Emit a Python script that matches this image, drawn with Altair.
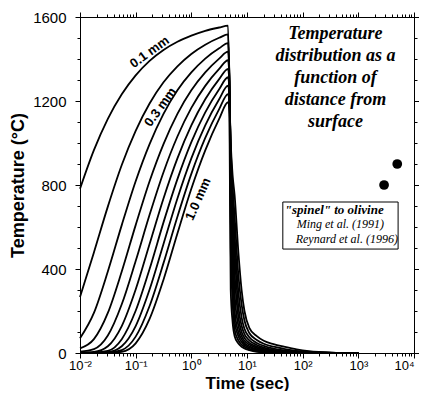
import altair as alt
import pandas as pd

# ---------------- data ----------------
depth_labels = ["0.1", "0.2", "0.3", "0.4", "0.5", "0.6", "0.7", "0.8", "0.9", "1.0"]

# heating phase (time in s)
heat_time = [0.01, 0.01778, 0.03162, 0.05623, 0.1, 0.1778, 0.3162, 0.5623, 1.0, 1.778, 3.162, 4.571]
heat_01 = [782, 966, 1115, 1232, 1322, 1391, 1443, 1482, 1511, 1534, 1550, 1559]
heat_02 = [266, 479, 697, 895, 1058, 1188, 1289, 1365, 1424, 1468, 1501, 1517]
heat_03 = [70, 191, 388, 609, 818, 995, 1139, 1251, 1336, 1402, 1451, 1476]
heat_04 = [22, 66, 191, 388, 609, 818, 995, 1139, 1251, 1336, 1402, 1435]
heat_05 = [6, 18, 83, 232, 438, 658, 861, 1031, 1167, 1272, 1353, 1394]
heat_06 = [2, 5, 32, 128, 302, 519, 736, 927, 1084, 1208, 1304, 1353]
heat_07 = [1, 2, 10, 66, 201, 400, 622, 828, 1004, 1146, 1256, 1313]
heat_08 = [0, 1, 4, 32, 128, 302, 519, 736, 927, 1084, 1208, 1273]
heat_09 = [0, 0, 2, 14, 78, 224, 428, 649, 853, 1024, 1161, 1233]
heat_10 = [0, 0, 1, 6, 46, 162, 349, 569, 782, 965, 1115, 1194]

# cooling phase (time in s)
cool_time = [4.85, 5.1, 5.5, 6.0, 7.0, 8.0, 9.0, 11, 15, 20, 30, 46, 78, 130, 200, 400, 1000]
cool_01 = [1100, 300, 150, 80, 45, 30, 22, 14, 6, 3, 1, 0, 0, 0, 0, 0, 0]
cool_02 = [1250, 500, 250, 110, 60, 40, 30, 20, 10, 5, 2, 1, 0, 0, 0, 0, 0]
cool_03 = [1300, 650, 350, 150, 80, 52, 38, 26, 14, 8, 4, 2, 1, 0, 0, 0, 0]
cool_04 = [1300, 750, 450, 200, 100, 65, 47, 32, 18, 11, 6, 3, 1, 0, 0, 0, 0]
cool_05 = [1290, 820, 550, 280, 130, 80, 58, 40, 24, 15, 8, 4, 2, 1, 0, 0, 0]
cool_06 = [1270, 880, 620, 380, 170, 100, 72, 48, 30, 20, 11, 6, 3, 1, 1, 0, 0]
cool_07 = [1250, 920, 680, 480, 220, 130, 90, 60, 38, 26, 15, 9, 4, 2, 1, 0, 0]
cool_08 = [1220, 950, 750, 560, 290, 170, 115, 75, 48, 34, 21, 13, 6, 3, 2, 0, 0]
cool_09 = [1190, 980, 800, 650, 370, 230, 155, 95, 62, 44, 30, 20, 10, 5, 3, 1, 0]
cool_10 = [1160, 1000, 850, 750, 480, 300, 200, 120, 80, 58, 42, 30, 17, 9, 5, 1, 0]

# experimental points
dot_time = [5000, 2900]
dot_temp = [900, 800]

# curve labels
curve_label_text = ["0.1 mm", "0.3 mm", "1.0 mm"]
curve_label_time = [0.178, 0.279, 1.33]
curve_label_temp = [1433, 1171, 733]
curve_label_angle = [324, 306, 294]

# annotation title (first line centre)
note_lines = ["Temperature", "distribution as a", "function of", "distance from", "surface"]
note_time = 388
note_temp = 1519

# legend box
box_time = [44, 5180]
box_temp = [495, 719]
legend_text = ["\"spinel\" to olivine", "Ming et al. (1991)", "Reynard et al. (1996)"]
legend_time = [47.7, 78, 75]
legend_temp = [681, 614, 543]
legend_weight = ["bold", "normal", "normal"]
legend_size = [13, 12, 12]

# axis ticks
x_ticks = []
for e in range(-2, 4):
    for k in range(1, 10):
        x_ticks.append(round(k * 10.0 ** e, 6))
x_ticks.append(10000)
y_ticks = list(range(0, 1700, 100))

# ---------------- build table ----------------
heats = [heat_01, heat_02, heat_03, heat_04, heat_05, heat_06, heat_07, heat_08, heat_09, heat_10]
cools = [cool_01, cool_02, cool_03, cool_04, cool_05, cool_06, cool_07, cool_08, cool_09, cool_10]
rows = []
for d, h, c in zip(depth_labels, heats, cools):
    i = 0
    for t, v in zip(heat_time, h):
        rows.append({"depth": d, "t": t, "T": v, "i": i}); i += 1
    for t, v in zip(cool_time, c):
        rows.append({"depth": d, "t": t, "T": v, "i": i}); i += 1
df = pd.DataFrame(rows)

FONT = "Liberation Sans"
SERIF = "Liberation Serif"

W, H = 334, 336

xscale = alt.Scale(type="log", domain=[0.01, 10000], nice=False)
yscale = alt.Scale(domain=[0, 1600], nice=False, zero=False)

major_test = "indexof([0.01,0.1,1,10,100,1000,10000], datum.value) >= 0"
label_expr = ("datum.value == 0.01 ? '10⁻²' : datum.value == 0.1 ? '10⁻¹' : "
              "datum.value == 1 ? '10⁰' : datum.value == 10 ? '10¹' : "
              "datum.value == 100 ? '10²' : datum.value == 1000 ? '10³' : "
              "datum.value == 10000 ? '10⁴' : ''")

x_bottom = alt.Axis(values=x_ticks, labelExpr=label_expr, labelOverlap=False, labelFlush=False,
                    labelAlign={"condition": {"test": "datum.value == 10000", "value": "right"},
                                "value": "center"},
                    tickSize={"condition": {"test": major_test, "value": 5}, "value": 3},
                    grid=False, labelFont=FONT, labelFontSize=13, labelPadding=1,
                    labelColor="black", tickColor="black", domainColor="black",
                    title="Time (sec)", titleFont=FONT, titleFontSize=17, titleFontWeight="bold",
                    titleColor="black", titleX=W / 2, titleY=35, titleBaseline="alphabetic",
                    titleAlign="center")
x_top = alt.Axis(values=x_ticks, labels=False, title=None, orient="top", grid=False,
                 tickSize={"condition": {"test": major_test, "value": 5}, "value": 3},
                 tickColor="black", domainColor="black")
y_left = alt.Axis(values=y_ticks, labelExpr="datum.value % 400 == 0 ? datum.label : ''",
                  labelOverlap=False, labelFlush=False, format="d",
                  tickSize={"condition": {"test": "datum.value % 400 == 0", "value": 5}, "value": 3},
                  grid=False, labelFont=FONT, labelFontSize=15, labelPadding=9,
                  labelColor="black", tickColor="black", domainColor="black",
                  title="Temperature (°C)", titleFont=FONT, titleFontSize=18, titleFontWeight="bold",
                  titleColor="black", titleX=-53, titleY=H / 2)
y_right = alt.Axis(values=y_ticks, labels=False, title=None, orient="right", grid=False,
                   tickSize={"condition": {"test": "datum.value % 400 == 0", "value": 5}, "value": 3},
                   tickColor="black", domainColor="black")

lines = alt.Chart(df).mark_line(color="black", strokeWidth=1.8, interpolate="monotone").encode(
    x=alt.X("t:Q", scale=xscale, axis=x_bottom),
    y=alt.Y("T:Q", scale=yscale, axis=y_left),
    detail="depth:N",
    order="i:Q",
)

dots_df = pd.DataFrame({"t": dot_time, "T": dot_temp})
mirror = alt.Chart(dots_df).mark_point(opacity=0).encode(
    x=alt.X("t:Q", scale=xscale, axis=x_top),
    y=alt.Y("T:Q", scale=yscale, axis=y_right),
)
dots = alt.Chart(dots_df).mark_circle(size=95, color="black", opacity=1).encode(
    x=alt.X("t:Q", scale=xscale, axis=None),
    y=alt.Y("T:Q", scale=yscale, axis=None),
)

cl_df = pd.DataFrame({"text": curve_label_text, "t": curve_label_time,
                      "T": curve_label_temp, "ang": curve_label_angle})
curve_labels = alt.Chart(cl_df).mark_text(font=FONT, fontSize=13, fontWeight="bold",
                                          color="black", align="center", baseline="middle").encode(
    x=alt.X("t:Q", scale=xscale, axis=None),
    y=alt.Y("T:Q", scale=yscale, axis=None),
    text="text:N",
    angle=alt.Angle("ang:Q", scale=None),
)

note_df = pd.DataFrame({"t": [note_time], "T": [note_temp]})
note = alt.Chart(note_df).mark_text(text=note_lines, font=SERIF, fontSize=18, fontWeight="bold",
                                    fontStyle="italic", lineHeight=22, color="black",
                                    align="center", baseline="middle").encode(
    x=alt.X("t:Q", scale=xscale, axis=None),
    y=alt.Y("T:Q", scale=yscale, axis=None),
)

box_df = pd.DataFrame({"t1": [box_time[0]], "t2": [box_time[1]], "T1": [box_temp[0]], "T2": [box_temp[1]]})
box = alt.Chart(box_df).mark_rect(fill="white", fillOpacity=0, stroke="black", strokeWidth=1).encode(
    x=alt.X("t1:Q", scale=xscale, axis=None), x2="t2:Q",
    y=alt.Y("T1:Q", scale=yscale, axis=None), y2="T2:Q",
)

leg_layers = []
for txt, t, T, w, s in zip(legend_text, legend_time, legend_temp, legend_weight, legend_size):
    ldf = pd.DataFrame({"t": [t], "T": [T], "text": [txt]})
    leg_layers.append(
        alt.Chart(ldf).mark_text(font=SERIF, fontSize=s, fontWeight=w, fontStyle="italic",
                                 color="black", align="left", baseline="middle").encode(
            x=alt.X("t:Q", scale=xscale, axis=None),
            y=alt.Y("T:Q", scale=yscale, axis=None),
            text="text:N",
        )
    )

chart = alt.layer(lines, mirror, dots, curve_labels, note, box, *leg_layers).resolve_axis(
    x="independent", y="independent"
).properties(
    width=W, height=H,
    autosize=alt.AutoSizeParams(type="none"),
    padding={"left": 72, "top": 9, "right": 5, "bottom": 38},
    background="white",
).configure_view(stroke="black", strokeWidth=1)

chart.save("out.html", embed_options={"renderer": "svg", "actions": False})
